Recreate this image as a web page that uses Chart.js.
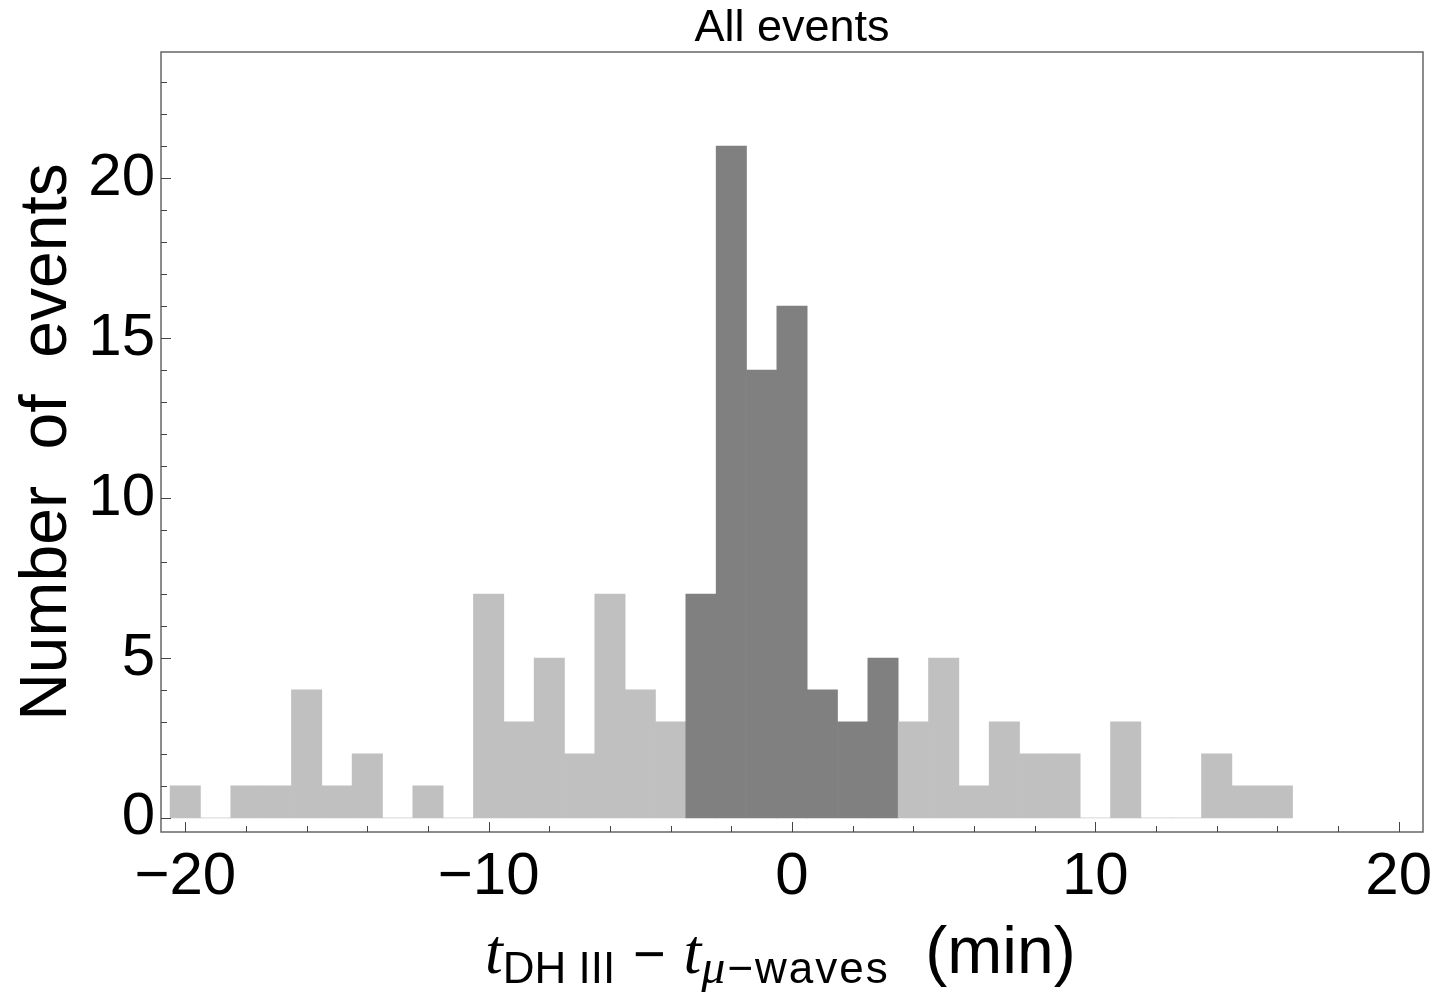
<!DOCTYPE html>
<html>
<head>
<meta charset="utf-8">
<script src="https://cdn.jsdelivr.net/npm/chart.js@4"></script>
<style>
  body { margin: 0; background: #fff; }
  #wrap { position: relative; width: 1435px; height: 992px; }
  #xtitle {
    position: absolute; left: 485px; top: 917px;
    font: 64px 'Liberation Sans', Arial, sans-serif; line-height: 1;
    white-space: pre; color: #000;
  }
  #xtitle .it { font-family: 'Liberation Serif', 'Times New Roman', serif; font-style: italic; font-size: 64px; }
  #xtitle sub { font-size: 44px; line-height: 0; vertical-align: -0.22em; }
  #xtitle sub .it { font-size: 48px; }
  #xtitle .sp { letter-spacing: 2px; }
  #xtitle .mn { font-size: 56px; }
  #xtitle .unit { font-size: 66px; }
</style>
</head>
<body>
<div id="wrap">
  <canvas id="myChart"></canvas>
  <div id="xtitle"><span class="it">t</span><sub>DH III</sub> <span class="mn">−</span> <span class="it">t</span><sub class="sp"><span class="it">μ</span>−waves</sub>  <span class="unit">(min)</span></div>
</div>
<script>
// histogram bins (1 min wide, centred on whole minutes)
const binCenters = [-20, -19, -18, -17, -16, -15, -14, -13, -12, -11, -10, -9, -8, -7, -6, -5, -4,
  -3, -2, -1, 0, 1, 2, 3, 4, 5, 6, 7, 8, 9, 10, 11, 12, 13, 14, 15, 16]
const counts = [1, 0, 1, 1, 4, 1, 2, 0, 1, 0, 7, 3, 5, 2, 7, 4, 3,
  7, 21, 14, 16, 4, 3, 5, 3, 5, 1, 3, 2, 2, 0, 3, 0, 0, 2, 1, 1]
const coreBins = [-3, -2, -1, 0, 1, 2, 3]   // drawn darker
const xTickValues = [-20, -10, 0, 10, 20]
const yTickValues = [0, 5, 10, 15, 20]

const FONT = "'Liberation Sans', Arial, sans-serif"
const LIGHT = '#c0c0c0'
const DARK = '#808080'

const fmt = v => (v < 0 ? '\u2212' + Math.abs(v) : String(v))

// Mathematica-like frame with inward ticks on left and bottom, title over the plot area
const frameTicks = {
  id: 'frameTicks',
  afterDatasetsDraw(chart) {
    const { ctx, chartArea: a, scales: { x, y } } = chart
    ctx.save()
    ctx.strokeStyle = '#666'
    ctx.lineWidth = 1.5
    ctx.strokeRect(a.left, a.top, a.right - a.left, a.bottom - a.top)
    ctx.strokeStyle = '#444'
    ctx.lineWidth = 1
    ctx.beginPath()
    for (let v = -20; v <= 20; v += 2) {
      const px = Math.round(x.getPixelForValue(v)) + 0.5
      const len = v % 10 === 0 ? 10 : 6
      ctx.moveTo(px, a.bottom)
      ctx.lineTo(px, a.bottom - len)
    }
    for (let v = 0; v <= 23; v++) {
      const py = Math.round(y.getPixelForValue(v)) + 0.5
      const len = v % 5 === 0 ? 10 : 6
      ctx.moveTo(a.left, py)
      ctx.lineTo(a.left + len, py)
    }
    ctx.stroke()

    ctx.fillStyle = '#000'
    ctx.font = '45px ' + FONT
    ctx.textAlign = 'center'
    ctx.textBaseline = 'alphabetic'
    ctx.fillText('All events', (a.left + a.right) / 2, 41)
    ctx.restore()
  }
}

new Chart(document.getElementById('myChart').getContext('2d'), {
  type: 'bar',
  data: {
    datasets: [{
      data: binCenters.map((x, i) => ({ x: x, y: counts[i] })),
      backgroundColor: c => (c.raw && coreBins.includes(c.raw.x) ? DARK : LIGHT),
      borderWidth: 0,
      barPercentage: 1,
      categoryPercentage: 1,
    }]
  },
  options: {
    responsive: true,
    maintainAspectRatio: false,
    animation: false,
    layout: { padding: { left: 0, right: 12, top: 52, bottom: 0 } },
    plugins: {
      legend: { display: false },
      tooltip: { enabled: false },
      title: { display: false }
    },
    scales: {
      x: {
        type: 'linear',
        offset: false,
        min: -20.8,
        max: 20.8,
        afterBuildTicks: s => { s.ticks = xTickValues.map(v => ({ value: v })) },
        afterFit: s => { s.height = 160; s.paddingLeft = 0; s.paddingRight = 0 },
        ticks: {
          color: '#000',
          font: { family: FONT, size: 60 },
          padding: 9,
          maxRotation: 0,
          autoSkip: false,
          callback: v => fmt(v),
        },
        grid: { display: false, drawTicks: false },
        border: { display: false },
      },
      y: {
        min: -0.44,
        max: 23.94,
        afterBuildTicks: s => { s.ticks = yTickValues.map(v => ({ value: v })) },
        afterFit: s => { s.width = 161 },
        ticks: {
          color: '#000',
          font: { family: FONT, size: 60 },
          padding: 6,
          callback: v => fmt(v),
        },
        title: {
          display: true,
          text: 'Number  of  events',
          color: '#000',
          font: { family: FONT, size: 66 },
          padding: { top: 8, bottom: 0 },
        },
        grid: { display: false, drawTicks: false },
        border: { display: false },
      }
    }
  },
  plugins: [frameTicks]
})
</script>
</body>
</html>
